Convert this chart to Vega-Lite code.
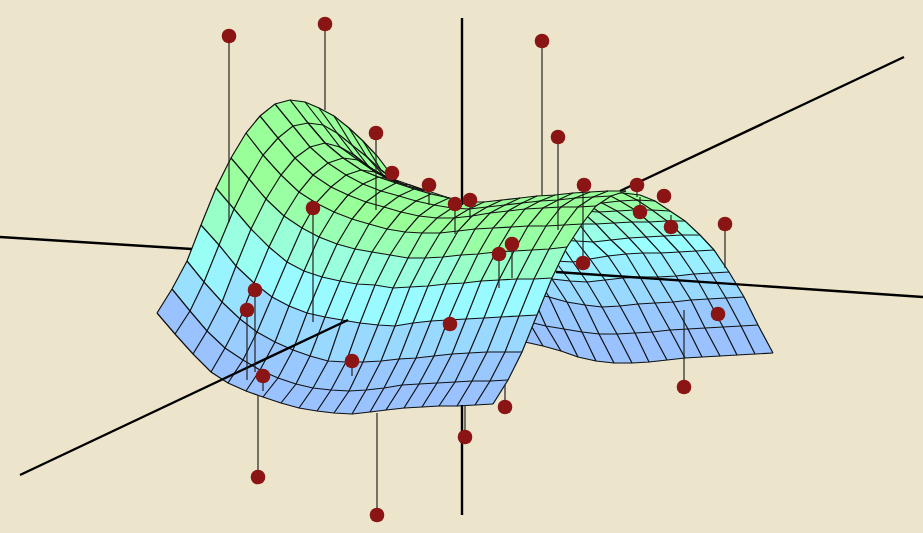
{"$schema":"https://vega.github.io/schema/vega-lite/v6.json","width":923,"height":533,"padding":0,"autosize":{"type":"none"},"background":"#ede5cb","config":{"view":{"stroke":null}},
"datasets":{
"rows":[
{"id":"F0","s":"F","i":[0,1,2,3,4,5,6,7,8,9,10,11,12,13,14,15,16,17,18,19],"x":[157,175,193,211,228,246,263,281,299,317,334,352,370,386,404,422,439,457,475,493],"y":[313,334,354,372,383,391,397,403,408,411,413,414,412,410,408,407,406,406,405,404]},
{"id":"F1","s":"F","i":[0,1,2,3,4,5,6,7,8,9,10,11,12,13,14,15,16,17,18,19],"x":[172,190,207,225,243,260,278,296,313,331,349,366,384,402,419,437,455,472,490,508],"y":[289,311,331,348,360,370,378,384,388,390,391,390,388,385,384,383,382,381,381,380]},
{"id":"F2","s":"F","i":[0,1,2,3,4,5,6,7,8,9,10,11,12,13,14,15,16,17,18,19],"x":[187,204,222,240,257,275,293,310,328,346,363,381,399,416,434,452,469,487,505,522],"y":[261,282,302,319,332,342,350,356,361,362,362,361,359,358,356,354,353,352,352,352]},
{"id":"F3","s":"F","i":[0,1,2,3,4,5,6,7,8,9,10,11,12,13,14,15,16,17,18,19],"x":[201,219,236,254,272,289,307,325,342,360,378,395,413,431,448,466,484,501,519,537],"y":[225,245,266,283,297,306,313,317,320,323,325,326,323,321,320,319,318,317,316,315]},
{"id":"F4","s":"F","i":[0,1,2,3,4,5,6,7,8,9,10,11,12,13,14,15,16,17,18,19],"x":[216,234,251,269,287,304,322,340,357,375,393,410,428,446,464,481,499,517,534,552],"y":[188,209,229,247,262,271,277,281,284,285,288,287,286,284,283,281,280,279,279,278]},
{"id":"F5","s":"F","i":[0,1,2,3,4,5,6,7,8,9,10,11,12,13,14,15,16,17,18,19],"x":[231,249,266,284,302,319,337,355,372,390,408,425,443,461,478,496,514,532,549,567],"y":[158,179,199,216,228,237,244,249,252,255,258,258,257,255,254,252,251,250,249,247]},
{"id":"F6","s":"F","i":[0,1,2,3,4,5,6,7,8,9,10,11,12,13,14,15,16,17,18,19],"x":[246,263,281,299,316,334,352,369,387,405,422,440,458,475,493,511,528,546,564,582],"y":[133,155,175,192,203,212,219,224,229,232,233,233,231,229,228,227,226,226,225,224]},
{"id":"F7","s":"F","i":[0,1,2,3,4,5,6,7,8,9,10,11,12,13,14,15,16,17,18,19],"x":[260,278,295,313,331,348,366,384,401,419,437,454,472,490,508,525,543,561,578,596],"y":[116,138,158,175,187,195,202,207,212,216,218,218,216,213,211,209,208,207,207,206]},
{"id":"F8","s":"F","i":[0,1,2,3,4,5,6,7,8,9,10,11,12,13,14,15,16,17,18,19],"x":[275,293,310,328,346,363,381,399,416,434,452,469,487,505,522,540,558,575,593,611],"y":[104,126,147,163,175,184,191,196,201,205,208,209,207,205,203,201,200,198,197,196]},
{"id":"F9","s":"F","i":[0,1,2,3,4,5,6,7,8,9,10,11,12,13,14,15,16,17,18,19],"x":[290,308,325,343,361,378,396,414,431,449,467,484,502,520,537,555,573,590,608,626],"y":[100,123,143,158,170,177,183,189,194,198,202,202,200,198,196,195,193,192,191,191]},
{"id":"L9","s":"L","i":[0,1,2,3,4,5,6,7,8,9],"x":[290,308,325,343,361,378,396,414,431,449],"y":[100,123,143,158,170,177,183,189,194,198]},
{"id":"L10","s":"L","i":[0,1,2,3,4,5,6,7,8,9],"x":[305,323,340,358,375,393,410,428,446,464],"y":[102,125,147,160,172,179,185,191,197,203]},
{"id":"L11","s":"L","i":[0,1,2,3,4,5,6],"x":[319,337,354,372,390,407,425],"y":[108,133,155,169,180,186,191]},
{"id":"L12","s":"L","i":[0,1,2,3,4,5],"x":[334,352,369,387,405,422],"y":[116,145,167,178,186,190]},
{"id":"L13","s":"L","i":[0,1,2,3],"x":[349,367,384,402],"y":[128,157,176,185]},
{"id":"L14","s":"L","i":[0,1,2],"x":[363,381,399],"y":[141,170,183]},
{"id":"L15","s":"L","i":[0,1],"x":[378,396],"y":[157,181]},
{"id":"R10","s":"R","i":[16,17,18,19],"x":[587,605,623,640],"y":[194,193,193,195]},
{"id":"R11","s":"R","i":[13,14,15,16,17,18,19],"x":[549,567,584,602,620,637,655],"y":[199,200,201,203,201,200,201]},
{"id":"R12","s":"R","i":[12,13,14,15,16,17,18,19],"x":[546,564,581,599,617,635,652,670],"y":[204,208,211,212,211,210,210,211]},
{"id":"R13","s":"R","i":[11,12,13,14,15,16,17,18,19],"x":[543,561,579,596,614,632,649,667,685],"y":[218,222,224,224,223,222,222,221,221]},
{"id":"R14","s":"R","i":[10,11,12,13,14,15,16,17,18,19],"x":[540,558,576,593,611,629,646,664,682,700],"y":[235,240,241,242,240,238,237,236,235,235]},
{"id":"R15","s":"R","i":[9,10,11,12,13,14,15,16,17,18,19],"x":[537,555,573,590,608,626,643,661,679,696,714],"y":[255,261,262,259,256,254,253,253,252,251,250]},
{"id":"R16","s":"R","i":[8,9,10,11,12,13,14,15,16,17,18,19],"x":[534,552,570,587,605,623,640,658,676,694,711,729],"y":[272,279,281,282,280,278,277,277,276,274,273,272]},
{"id":"R17","s":"R","i":[7,8,9,10,11,12,13,14,15,16,17,18,19],"x":[531,549,567,585,602,620,638,655,673,691,708,726,744],"y":[293,297,302,305,307,306,304,303,302,300,299,298,297]},
{"id":"R18","s":"R","i":[6,7,8,9,10,11,12,13,14,15,16,17,18,19],"x":[529,546,564,582,599,617,635,652,670,688,705,723,741,758],"y":[322,326,329,332,334,334,333,332,330,329,328,327,326,325]},
{"id":"R19","s":"R","i":[5,6,7,8,9,10,11,12,13,14,15,16,17,18,19],"x":[525,543,561,578,596,614,632,649,667,685,702,720,737,755,773],"y":[342,346,351,357,361,363,363,362,360,358,357,356,355,354,353]}
],
"polys":[
{"id":"bl","g":"b","c":"#99ff99","x":[290,305,319,334,349,363,378,396,405,422,437,450,467,449,431,414,396,378,361,343,325,308],"y":[100,102,108,116,128,141,157,181,186,190,195,198,202,198,194,189,183,177,170,158,143,123]},
{"id":"r9","g":"b","c":"#99ff99","x":[537,555,573,590,608,626,640,655,637,620,602,584,567,549],"y":[196,195,193,192,191,191,195,201,200,201,203,201,200,199]},
{"id":"r11","g":"b","c":"#99ffa5","x":[549,567,584,602,620,637,655,670,652,635,617,599,581,564,546],"y":[199,200,201,203,201,200,201,211,210,210,211,212,211,208,204]},
{"id":"r12","g":"b","c":"#99ffc0","x":[546,564,581,599,617,635,652,670,685,667,649,632,614,596,579,561,543],"y":[204,208,211,212,211,210,210,211,221,221,222,222,223,224,224,222,218]},
{"id":"r13","g":"b","c":"#99ffe6","x":[543,561,579,596,614,632,649,667,685,700,682,664,646,629,611,593,576,558,540],"y":[218,222,224,224,223,222,222,221,221,235,235,236,237,238,240,242,241,240,235]},
{"id":"r14","g":"b","c":"#99ffff","x":[540,558,576,593,611,629,646,664,682,700,714,696,679,661,643,626,608,590,573,555,537],"y":[235,240,241,242,240,238,237,236,235,235,250,251,252,253,253,254,256,259,262,261,255]},
{"id":"r15","g":"b","c":"#99eeff","x":[537,555,573,590,608,626,643,661,679,696,714,729,711,694,676,658,640,623,605,587,570,552,534],"y":[255,261,262,259,256,254,253,253,252,251,250,272,273,274,276,277,277,278,280,282,281,279,272]},
{"id":"r16","g":"b","c":"#99d8ff","x":[534,552,570,587,605,623,640,658,676,694,711,729,744,726,708,691,673,655,638,620,602,585,567,549,531],"y":[272,279,281,282,280,278,277,277,276,274,273,272,297,298,299,300,302,303,304,306,307,305,302,297,293]},
{"id":"r17","g":"b","c":"#99c8ff","x":[531,549,567,585,602,620,638,655,673,691,708,726,744,758,741,723,705,688,670,652,635,617,599,582,564,546,529],"y":[293,297,302,305,307,306,304,303,302,300,299,298,297,325,326,327,328,329,330,332,333,334,334,332,329,326,322]},
{"id":"r18","g":"b","c":"#99c2ff","x":[529,546,564,582,599,617,635,652,670,688,705,723,741,758,773,755,737,720,702,685,667,649,632,614,596,578,561,543,525],"y":[322,326,329,332,334,334,333,332,330,329,328,327,326,325,353,354,355,356,357,358,360,362,363,363,361,357,351,346,342]},
{"id":"s6","g":"f","c":"#99ff99","x":[246,263,281,299,316,334,352,369,387,405,422,440,458,475,493,511,528,546,564,582,596,611,626,608,590,573,555,537,520,502,484,467,449,431,414,396,378,361,343,325,308,290,275,260],"y":[133,155,175,192,203,212,219,224,229,232,233,233,231,229,228,227,226,226,225,224,206,196,191,191,192,193,195,196,198,200,202,202,198,194,189,183,177,170,158,143,123,100,104,116]},
{"id":"s5","g":"f","c":"#99ffb2","x":[231,249,266,284,302,319,337,355,372,390,408,425,443,461,478,496,514,532,549,567,582,564,546,528,511,493,475,458,440,422,405,387,369,352,334,316,299,281,263,246],"y":[158,179,199,216,228,237,244,249,252,255,258,258,257,255,254,252,251,250,249,247,224,225,226,226,227,228,229,231,233,233,232,229,224,219,212,203,192,175,155,133]},
{"id":"s4","g":"f","c":"#99ffdd","x":[216,234,251,269,287,304,322,340,357,375,393,410,428,446,464,481,499,517,534,552,567,549,532,514,496,478,461,443,425,408,390,372,355,337,319,302,284,266,249,231],"y":[188,209,229,247,262,271,277,281,284,285,288,287,286,284,283,281,280,279,279,278,247,249,250,251,252,254,255,257,258,258,255,252,249,244,237,228,216,199,179,158]},
{"id":"s3","g":"f","c":"#99fbff","x":[201,219,236,254,272,289,307,325,342,360,378,395,413,431,448,466,484,501,519,537,552,534,517,499,481,464,446,428,410,393,375,357,340,322,304,287,269,251,234,216],"y":[225,245,266,283,297,306,313,317,320,323,325,326,323,321,320,319,318,317,316,315,278,279,279,280,281,283,284,286,287,288,285,284,281,277,271,262,247,229,209,188]},
{"id":"s2","g":"f","c":"#99d8ff","x":[187,204,222,240,257,275,293,310,328,346,363,381,399,416,434,452,469,487,505,522,537,519,501,484,466,448,431,413,395,378,360,342,325,307,289,272,254,236,219,201],"y":[261,282,302,319,332,342,350,356,361,362,362,361,359,358,356,354,353,352,352,352,315,316,317,318,319,320,321,323,326,325,323,320,317,313,306,297,283,266,245,225]},
{"id":"s1","g":"f","c":"#99c8ff","x":[172,190,207,225,243,260,278,296,313,331,349,366,384,402,419,437,455,472,490,508,522,505,487,469,452,434,416,399,381,363,346,328,310,293,275,257,240,222,204,187],"y":[289,311,331,348,360,370,378,384,388,390,391,390,388,385,384,383,382,381,381,380,352,352,352,353,354,356,358,359,361,362,362,361,356,350,342,332,319,302,282,261]},
{"id":"s0","g":"f","c":"#99c2ff","x":[157,175,193,211,228,246,263,281,299,317,334,352,370,386,404,422,439,457,475,493,508,490,472,455,437,419,402,384,366,349,331,313,296,278,260,243,225,207,190,172],"y":[313,334,354,372,383,391,397,403,408,411,413,414,412,410,408,407,406,406,405,404,380,381,381,382,383,384,385,388,390,391,390,388,384,378,370,360,348,331,311,289]},
{"id":"c01","g":"f","c":"#99e0ff","x":[172,190,204,187],"y":[289,311,282,261]},
{"id":"c11","g":"f","c":"#99d5ff","x":[190,207,222,204],"y":[311,331,302,282]},
{"id":"c21","g":"f","c":"#99d0ff","x":[207,225,240,222],"y":[331,348,319,302]},
{"id":"c31","g":"f","c":"#99ccff","x":[225,243,257,240],"y":[348,360,332,319]},
{"id":"c02","g":"f","c":"#99fff4","x":[187,204,219,201],"y":[261,282,245,225]},
{"id":"c12","g":"f","c":"#99f4ff","x":[204,222,236,219],"y":[282,302,266,245]},
{"id":"c22","g":"f","c":"#99e2ff","x":[222,240,254,236],"y":[302,319,283,266]},
{"id":"c03","g":"f","c":"#99ffc8","x":[201,219,234,216],"y":[225,245,209,188]},
{"id":"c13","g":"f","c":"#99ffe0","x":[219,236,251,234],"y":[245,266,229,209]},
{"id":"c23","g":"f","c":"#99fff0","x":[236,254,269,251],"y":[266,283,247,229]},
{"id":"c04","g":"f","c":"#99ff9f","x":[216,234,249,231],"y":[188,209,179,158]},
{"id":"c14","g":"f","c":"#99ffad","x":[234,251,266,249],"y":[209,229,199,179]},
{"id":"c24","g":"f","c":"#99ffc6","x":[251,269,284,266],"y":[229,247,216,199]},
{"id":"c34","g":"f","c":"#99ffd8","x":[269,287,302,284],"y":[247,262,228,216]},
{"id":"c05","g":"f","c":"#99ff99","x":[231,249,263,246],"y":[158,179,155,133]},
{"id":"c15","g":"f","c":"#99ff99","x":[249,266,281,263],"y":[179,199,175,155]},
{"id":"c25","g":"f","c":"#99ffa2","x":[266,284,299,281],"y":[199,216,192,175]},
{"id":"c35","g":"f","c":"#99ffaa","x":[284,302,316,299],"y":[216,228,203,192]},
{"id":"s4r","g":"f","c":"#99ffc8","x":[446,464,481,499,517,534,552,567,549,532,514,496,478,461],"y":[284,283,281,280,279,279,278,247,249,250,251,252,254,255]},
{"id":"s5r","g":"f","c":"#99ffa5","x":[461,478,496,514,532,549,567,582,564,546,528,511,493,475],"y":[255,254,252,251,250,249,247,224,225,226,226,227,228,229]}
],
"axes":[
{"a":"v1","x":462,"y":18},{"a":"v1","x":462,"y":205},
{"a":"v2","x":462,"y":405},{"a":"v2","x":462,"y":515},
{"a":"h1","x":0,"y":237},{"a":"h1","x":192,"y":249},
{"a":"h2","x":556,"y":272},{"a":"h2","x":923,"y":297},
{"a":"d1","x":20,"y":475},{"a":"d1","x":348,"y":320},
{"a":"d2","x":620,"y":191},{"a":"d2","x":904,"y":57}
],
"needles":[
{"x":229,"y":36,"y2":222},{"x":325,"y":24,"y2":110},{"x":376,"y":133,"y2":210},{"x":392,"y":173,"y2":180},{"x":429,"y":185,"y2":205},{"x":455,"y":204,"y2":234},{"x":470,"y":200,"y2":218},{"x":542,"y":41,"y2":195},{"x":558,"y":137,"y2":230},{"x":583,"y":185,"y2":263},{"x":637,"y":185,"y2":197},{"x":664,"y":196,"y2":200},{"x":640,"y":212,"y2":197},{"x":671,"y":227,"y2":215},{"x":725,"y":224,"y2":268},{"x":684,"y":387,"y2":310},{"x":505,"y":407,"y2":385},{"x":465,"y":437,"y2":405},{"x":377,"y":515,"y2":413},{"x":258,"y":477,"y2":395},{"x":263,"y":376,"y2":391},{"x":352,"y":361,"y2":376},{"x":255,"y":290,"y2":372},{"x":247,"y":310,"y2":380},{"x":313,"y":208,"y2":322},{"x":499,"y":254,"y2":288},{"x":512,"y":244,"y2":278}
],
"balls":[
{"x":229,"y":36},{"x":325,"y":24},{"x":376,"y":133},{"x":392,"y":173},{"x":429,"y":185},{"x":455,"y":204},{"x":470,"y":200},{"x":542,"y":41},{"x":558,"y":137},{"x":584,"y":185},{"x":583,"y":263},{"x":637,"y":185},{"x":664,"y":196},{"x":640,"y":212},{"x":671,"y":227},{"x":725,"y":224},{"x":718,"y":314},{"x":684,"y":387},{"x":505,"y":407},{"x":465,"y":437},{"x":377,"y":515},{"x":258,"y":477},{"x":263,"y":376},{"x":352,"y":361},{"x":255,"y":290},{"x":247,"y":310},{"x":313,"y":208},{"x":450,"y":324},{"x":499,"y":254},{"x":512,"y":244}
]
},
"encoding":{"x":{"field":"x","type":"quantitative","scale":{"domain":[0,923],"nice":false,"zero":false},"axis":null},"y":{"field":"y","type":"quantitative","scale":{"domain":[533,0],"nice":false,"zero":false},"axis":null}},
"layer":[
{"data":{"name":"polys"},"transform":[{"filter":"datum.g=='b'"},{"flatten":["x","y"]}],"mark":{"type":"line","strokeWidth":0.5},"encoding":{"order":{"value":null},"detail":{"field":"id"},"fill":{"field":"c","scale":null},"stroke":{"field":"c","scale":null}}},
{"data":{"name":"rows"},"transform":[{"filter":"datum.s!='F'"},{"flatten":["i","x","y"]}],"mark":{"type":"line","stroke":"#111111","strokeWidth":1.2},"encoding":{"detail":{"field":"id"}}},
{"data":{"name":"rows"},"transform":[{"filter":"datum.s!='F'"},{"flatten":["i","x","y"]}],"mark":{"type":"line","stroke":"#111111","strokeWidth":1.2},"encoding":{"detail":[{"field":"s"},{"field":"i"}]}},
{"data":{"name":"polys"},"transform":[{"filter":"datum.g=='f'"},{"flatten":["x","y"]}],"mark":{"type":"line","strokeWidth":0.5},"encoding":{"order":{"value":null},"detail":{"field":"id"},"fill":{"field":"c","scale":null},"stroke":{"field":"c","scale":null}}},
{"data":{"name":"rows"},"transform":[{"filter":"datum.s=='F'"},{"flatten":["i","x","y"]}],"mark":{"type":"line","stroke":"#111111","strokeWidth":1.2},"encoding":{"detail":{"field":"id"}}},
{"data":{"name":"rows"},"transform":[{"filter":"datum.s=='F'"},{"flatten":["i","x","y"]}],"mark":{"type":"line","stroke":"#111111","strokeWidth":1.2},"encoding":{"detail":{"field":"i"}}},
{"data":{"name":"axes"},"mark":{"type":"line","stroke":"#000000","strokeWidth":2.4},"encoding":{"detail":{"field":"a"}}},
{"data":{"name":"needles"},"mark":{"type":"rule","stroke":"#222222","strokeWidth":1.2},"encoding":{"y2":{"field":"y2"}}},
{"data":{"name":"balls"},"mark":{"type":"circle","size":215,"color":"#8b1515","opacity":1}}
]}
